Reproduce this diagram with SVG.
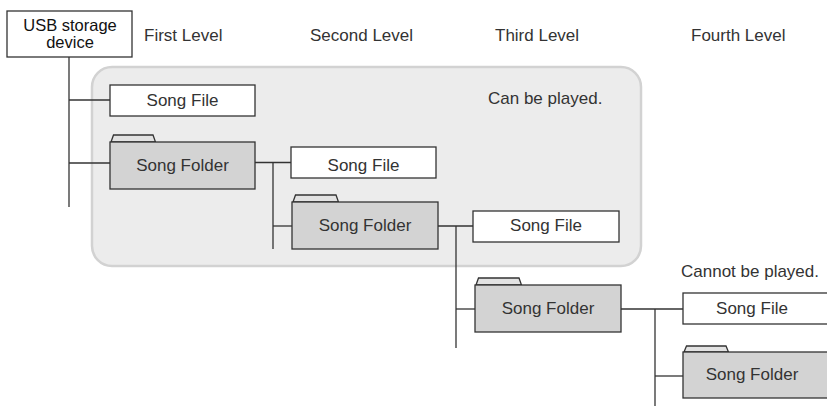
<svg xmlns="http://www.w3.org/2000/svg" width="827" height="407" viewBox="0 0 827 407">
<style>
text{font-family:"Liberation Sans",Arial,sans-serif;font-size:17px;fill:#333}
.c{text-anchor:middle}
.file{fill:#fff;stroke:#333;stroke-width:1.3}
.folder{fill:#d3d3d3;stroke:#333;stroke-width:1.3}
.tab{fill:#e2e2e2;stroke:#333;stroke-width:1.3}
.conn line{stroke:#333;stroke-width:1.3}
</style>
<rect width="827" height="407" fill="#fff"/>
<g id="playable-area">
<rect x="92" y="67" width="549" height="199" rx="20" fill="#ececec" stroke="#d2d2d2" stroke-width="2.5"/>
<text x="488" y="104">Can be played.</text>
</g>
<text x="681" y="277">Cannot be played.</text>
<g id="levels">
<text x="144" y="41">First Level</text>
<text x="310" y="41">Second Level</text>
<text x="495" y="41">Third Level</text>
<text x="691" y="41">Fourth Level</text>
</g>
<g class="conn" id="connectors">
<line x1="69" y1="57" x2="69" y2="207"/>
<line x1="69" y1="100" x2="110" y2="100"/>
<line x1="69" y1="163" x2="110" y2="163"/>
<line x1="255" y1="162.5" x2="291" y2="162.5"/>
<line x1="273" y1="162.5" x2="273" y2="249"/>
<line x1="273" y1="226" x2="292" y2="226"/>
<line x1="438" y1="226" x2="473" y2="226"/>
<line x1="456" y1="226" x2="456" y2="348"/>
<line x1="456" y1="309" x2="475" y2="309"/>
<line x1="621" y1="309" x2="683" y2="309"/>
<line x1="655" y1="309" x2="655" y2="406"/>
<line x1="655" y1="376" x2="683" y2="376"/>
</g>
<g id="usb">
<rect x="7" y="11" width="125" height="46" class="file"/>
<text class="c" x="70" y="30.5" style="fill:#111;font-size:16.5px">USB storage</text>
<text class="c" x="70" y="47.5" style="fill:#111;font-size:16.5px">device</text>
</g>
<g id="file1">
<rect x="110" y="85" width="145" height="31" class="file"/>
<text class="c" x="182.5" y="106">Song File</text>
</g>
<g id="folder1">
<path d="M111,142 L113.5,135 L153,135 L155.5,142 Z" class="tab"/>
<rect x="110" y="142" width="145" height="47" class="folder"/>
<text class="c" x="182.5" y="171">Song Folder</text>
</g>
<g id="file2">
<rect x="291" y="147" width="145" height="31" class="file"/>
<text class="c" x="363.5" y="171">Song File</text>
</g>
<g id="folder2">
<path d="M293,202 L295.5,195 L336,195 L338.5,202 Z" class="tab"/>
<rect x="292" y="202" width="146" height="47" class="folder"/>
<text class="c" x="365" y="231">Song Folder</text>
</g>
<g id="file3">
<rect x="473" y="211" width="146" height="31" class="file"/>
<text class="c" x="546" y="231">Song File</text>
</g>
<g id="folder3">
<path d="M476,285 L478.5,278 L519,278 L521.5,285 Z" class="tab"/>
<rect x="475" y="285" width="146" height="47" class="folder"/>
<text class="c" x="548" y="314">Song Folder</text>
</g>
<g id="file4">
<rect x="683" y="293" width="150" height="31" class="file"/>
<text class="c" x="752" y="314">Song File</text>
</g>
<g id="folder4">
<path d="M684,352 L686.5,346 L726,346 L728.5,352 Z" class="tab"/>
<rect x="683" y="352" width="150" height="46" class="folder"/>
<text class="c" x="752" y="380">Song Folder</text>
</g>
</svg>
